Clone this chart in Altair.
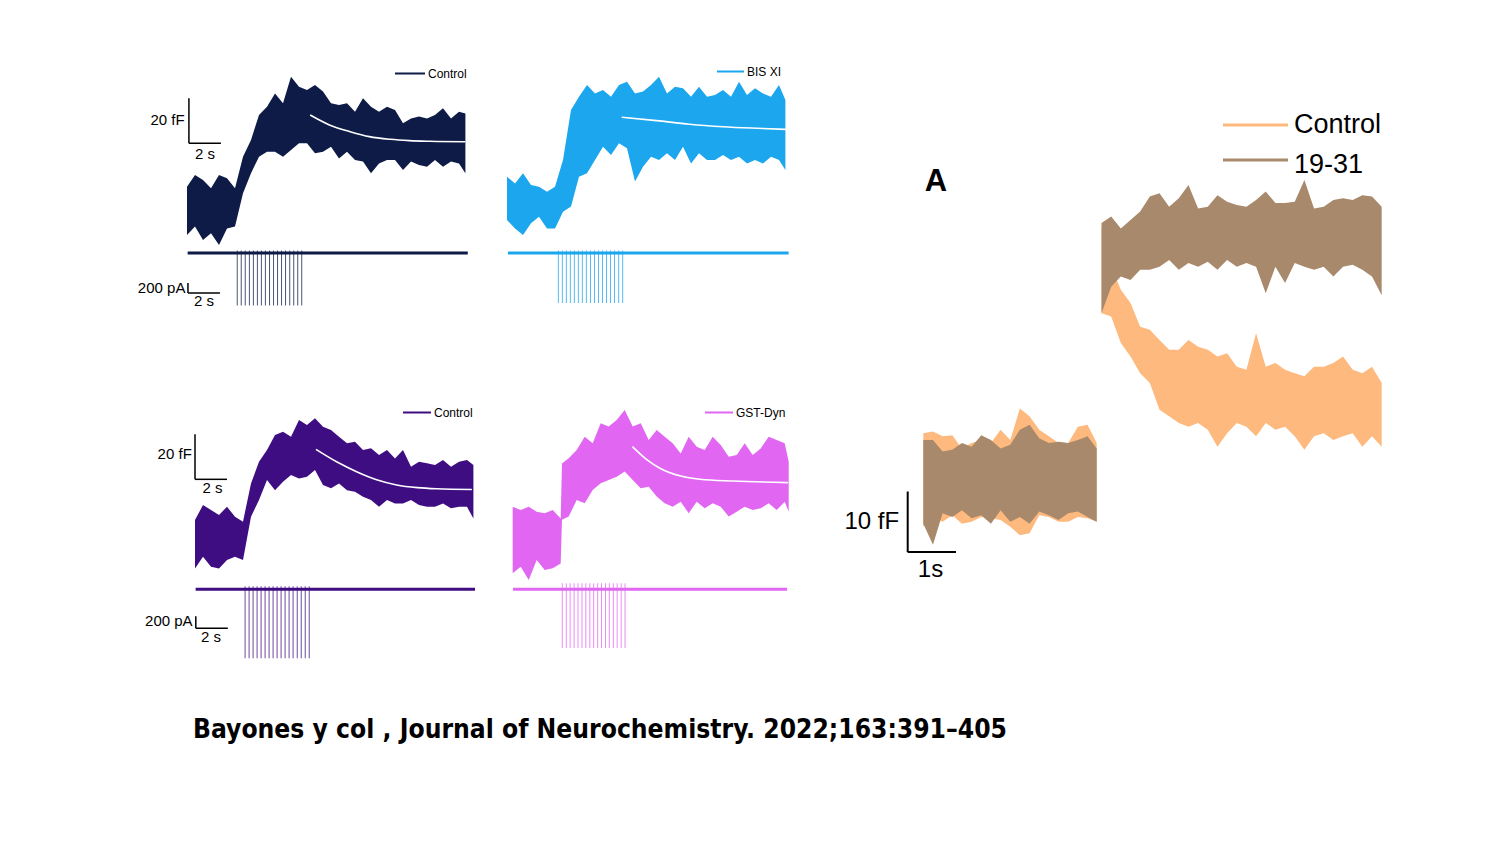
import altair as alt
import pandas as pd

# ---------------- data ----------------
# left block: time (s) and capacitance envelopes (fF, relative to pre-stimulus baseline)
T_LEFT = [0, 0.5, 1, 1.5, 2, 2.5, 3, 3.5, 4, 4.5, 5, 5.5, 6, 6.5, 7, 7.5, 8, 8.5, 9, 9.5,
          10, 10.5, 11, 11.5, 12, 12.5, 13, 13.5, 14, 14.5, 15, 15.5, 16, 16.5, 17, 17.4]

CTRL1_HI = [8.1, 13.3, 11.1, 7.4, 13.3, 11.9, 7.4, 21.5, 28.9, 40.0, 43.7, 49.6, 45.2, 57.0, 52.6, 51.1, 53.3, 50.4,
            45.2, 44.4, 45.2, 41.5, 47.4, 43.7, 41.5, 43.7, 42.2, 36.3, 38.5, 39.3, 38.5, 40.0, 43.0, 38.5, 41.5, 40.7]
CTRL1_LO = [-13.3, -9.6, -15.6, -12.6, -17.8, -10.4, -9.6, 5.2, 14.1, 21.5, 23.7, 23.7, 21.5, 24.4, 27.4, 27.4, 23.0, 23.7,
            25.9, 20.7, 23.7, 20.0, 19.3, 14.1, 18.5, 20.0, 20.0, 15.6, 19.3, 17.8, 17.0, 20.0, 17.0, 19.3, 18.5, 14.1]

BIS_HI = [12.6, 9.6, 14.1, 8.9, 8.1, 5.9, 8.1, 20.0, 42.2, 48.1, 53.3, 49.6, 51.1, 48.1, 53.3, 54.8, 49.6, 50.4,
          53.3, 57.0, 49.6, 52.6, 51.9, 48.1, 52.6, 48.1, 48.9, 51.1, 48.1, 54.8, 48.9, 51.9, 49.6, 48.1, 53.3, 46.7]
BIS_LO = [-6.7, -10.4, -13.3, -8.1, -5.2, -10.4, -10.4, -3.0, -0.7, 12.6, 14.1, 20.0, 25.9, 22.2, 27.4, 25.2, 10.4, 17.0,
          21.5, 20.0, 23.0, 20.0, 25.9, 18.5, 23.0, 20.0, 20.0, 22.2, 20.0, 21.5, 18.5, 20.0, 18.5, 21.5, 20.0, 15.6]

CTRL2_HI = [7.4, 14.1, 11.9, 9.6, 13.3, 8.9, 6.7, 23.7, 33.3, 38.5, 45.2, 46.7, 44.4, 51.9, 49.6, 52.6, 48.9, 47.4,
            44.4, 41.5, 42.2, 38.5, 39.3, 36.3, 38.5, 34.8, 38.5, 31.1, 33.3, 32.6, 31.9, 34.1, 31.1, 33.3, 34.1, 31.9]
CTRL2_LO = [-14.1, -8.9, -13.3, -14.1, -10.4, -8.9, -10.4, 8.9, 16.3, 25.2, 20.7, 24.4, 27.4, 25.9, 26.7, 29.6, 23.0, 21.5,
            23.7, 20.7, 20.0, 17.8, 16.3, 13.3, 16.3, 14.8, 14.8, 16.3, 14.1, 13.3, 13.3, 14.8, 12.6, 13.3, 13.3, 8.1]

T_GST = [0, 0.5, 1, 1.5, 2, 2.5, 3, 3.08, 3.5, 4, 4.5, 5, 5.5, 6, 6.5, 7, 7.5, 8, 8.5, 9, 9.5,
         10, 10.5, 11, 11.5, 12, 12.5, 13, 13.5, 14, 14.5, 15, 15.5, 16, 16.5, 17, 17.25]
GST_HI = [14.8, 13.3, 14.8, 12.6, 11.9, 13.3, 9.6, 34.0, 36.3, 40.0, 45.9, 43.0, 51.9, 50.4, 53.3, 57.8, 50.4, 51.9, 44.4,
          48.9, 45.9, 43.0, 38.5, 45.9, 41.5, 40.0, 45.9, 42.2, 37.0, 37.8, 43.0, 37.8, 40.7, 45.9, 44.4, 43.0, 34.8]
GST_LO = [-14.8, -11.9, -17.8, -8.9, -13.3, -12.6, -10.4, 9.0, 10.4, 17.8, 16.3, 22.2, 25.2, 26.7, 28.1, 30.4, 26.7, 23.0,
          23.7, 19.3, 16.3, 14.8, 17.0, 11.9, 17.0, 14.1, 16.3, 14.8, 10.4, 12.6, 14.8, 13.3, 14.1, 16.3, 13.3, 17.0, 12.6]

# exponential fits (white lines)
CTRL1_FIT_T = [7.7, 8.9, 10.2, 11.4, 12.7, 13.9, 15.2, 17.4]
CTRL1_FIT = [40.0, 35.6, 32.6, 30.4, 29.2, 28.6, 28.3, 28.1]
BIS_FIT_T = [7.17, 9.35, 11.4, 13.5, 15.6, 17.45]
BIS_FIT = [39.0, 37.5, 35.9, 34.8, 34.1, 33.6]
CTRL2_FIT_T = [7.56, 8.85, 10.1, 11.4, 12.6, 13.9, 15.1, 17.3]
CTRL2_FIT = [38.8, 33.3, 28.9, 25.2, 23.0, 21.8, 21.3, 21.0]
GST_FIT_T = [7.48, 8.4, 9.2, 10.5, 11.7, 13.8, 17.2]
GST_FIT = [41.5, 35.6, 31.9, 28.4, 27.0, 26.2, 25.5]

# stimulation trains (s) and current traces (pA)
CTRL1_SPIKES = [3.14, 3.39, 3.64, 3.90, 4.15, 4.40, 4.65, 4.90, 5.16, 5.41, 5.66, 5.91, 6.16, 6.42, 6.67, 6.92, 7.17]
BIS_SPIKES = [3.21, 3.46, 3.71, 3.96, 4.21, 4.46, 4.71, 4.96, 5.22, 5.47, 5.72, 5.97, 6.22, 6.47, 6.72, 6.98, 7.23]
CTRL2_SPIKES = [3.13, 3.38, 3.63, 3.88, 4.13, 4.38, 4.63, 4.88, 5.13, 5.38, 5.63, 5.88, 6.13, 6.39, 6.64, 6.89, 7.14]
GST_SPIKES = [3.10, 3.35, 3.59, 3.84, 4.08, 4.33, 4.57, 4.82, 5.06, 5.31, 5.55, 5.80, 6.04, 6.29, 6.53, 6.78, 7.02]
SPIKE_TOP = [50, 50, 50, 100]               # pA
SPIKE_BOTTOM = [-1050, -1000, -1150, -980]  # pA
CURRENT_START = [0.04, 0.06, 0.04, 0.02]    # s
CURRENT_END = [17.55, 17.6, 17.5, 17.15]    # s

# panel A: Control vs 19-31 (time s, capacitance fF)
A_T_PRE = [0, 0.2, 0.4, 0.6, 0.8, 1.0, 1.2, 1.4, 1.6, 1.8, 2.0, 2.2, 2.4, 2.6, 2.8, 3.0, 3.2, 3.4, 3.59]
A_CTRL_PRE_HI = [7.7, 8.0, 7.2, 7.4, 5.2, 6.1, 6.6, 6.1, 8.3, 6.6, 11.8, 10.5, 8.3, 7.2, 6.1, 6.1, 8.8, 9.1, 6.1]
A_CTRL_PRE_LO = [-7.7, -6.1, -6.9, -5.8, -7.2, -6.9, -6.1, -6.3, -6.6, -7.7, -9.1, -8.8, -5.8, -6.1, -6.9, -6.9, -6.1, -6.3, -6.9]
A_1931_PRE_HI = [6.6, 6.6, 4.7, 5.0, 6.1, 5.5, 7.4, 6.6, 5.2, 5.8, 8.3, 9.1, 6.9, 6.1, 6.3, 6.1, 6.6, 7.2, 5.2]
A_1931_PRE_LO = [-7.2, -10.7, -5.5, -6.1, -5.0, -6.3, -5.8, -7.2, -5.0, -6.9, -6.1, -7.2, -5.2, -5.8, -6.6, -5.5, -5.2, -6.1, -6.9]

A_T_POST = [3.69, 3.89, 4.09, 4.29, 4.49, 4.69, 4.89, 5.09, 5.29, 5.49, 5.69, 5.89, 6.09, 6.29, 6.49,
            6.69, 6.89, 7.09, 7.29, 7.49, 7.69, 7.89, 8.09, 8.29, 8.49, 8.69, 8.89, 9.09, 9.29, 9.49]
A_1931_POST_HI = [42.4, 43.5, 41.5, 42.9, 44.3, 46.8, 47.3, 45.1, 46.5, 48.7, 44.8, 45.1, 47.0, 45.9, 45.4,
                  45.1, 46.2, 47.6, 45.7, 45.7, 45.9, 49.5, 44.8, 45.1, 46.2, 46.5, 46.2, 47.0, 46.8, 45.1]
A_1931_POST_LO = [27.5, 31.9, 33.6, 33.0, 34.7, 34.7, 35.2, 36.3, 34.7, 35.8, 35.2, 36.0, 34.7, 36.3, 35.2,
                  35.8, 35.2, 30.8, 35.2, 32.5, 35.8, 35.2, 34.7, 35.2, 33.6, 35.2, 35.5, 34.7, 33.6, 30.5]
A_CTRL_POST_HI = [41.8, 35.2, 31.4, 29.2, 25.3, 24.8, 23.1, 21.5, 21.5, 23.1, 22.0, 21.5, 20.4, 20.9, 18.7,
                  18.2, 24.2, 18.7, 19.3, 18.2, 17.6, 17.1, 18.7, 18.7, 19.3, 20.4, 18.2, 17.6, 18.7, 16.0]
A_CTRL_POST_LO = [27.5, 27.0, 22.6, 20.4, 17.6, 16.0, 11.6, 10.5, 9.4, 8.8, 9.4, 8.3, 5.5, 7.7, 9.4,
                  8.8, 7.2, 9.4, 8.3, 8.8, 7.2, 5.0, 7.2, 7.7, 6.6, 7.2, 7.7, 5.5, 7.2, 5.5]

LEGEND_NAMES = ["Control", "BIS XI", "Control", "GST-Dyn"]
A_NAMES = ["Control", "19-31"]
CAPTION = "Bayones y col , Journal of Neurochemistry. 2022;163:391\u2013405"

# ---------------- styling / layout ----------------
NAVY, SKY, INDIGO, ORCHID = "#0d1b46", "#1ba6ee", "#3f0d82", "#e167f3"
ORANGE, BROWN = "#fdb97e", "#a8896b"
FONT = "Liberation Sans, Arial, Helvetica, sans-serif"

PX_S = 16.0      # px per second, left panels
PX_FF = 2.25     # px per fF, left panels


def lin(d0, d1, r0, r1):
    return alt.Scale(domain=[d0, d1], range=[r0, r1], nice=False, zero=False)


def left_scales(x0, cap0, cur0, cur_k):
    xs = lin(-2, 20, x0 - 2 * PX_S, x0 + 20 * PX_S)
    ys = lin(-40, 80, cap0 + 40 * PX_FF, cap0 - 80 * PX_FF)
    yc = lin(-2000, 500, cur0 + 2000 * cur_k, cur0 - 500 * cur_k)
    return xs, ys, yc


def X(field, sc):
    return alt.X(field, type="quantitative", scale=sc, axis=None)


def Y(field, sc):
    return alt.Y(field, type="quantitative", scale=sc, axis=None)


layers = []


def band(t, hi, lo, xs, ys, color):
    df = pd.DataFrame({"t": t, "hi": hi, "lo": lo})
    return alt.Chart(df).mark_area(color=color, opacity=1, interpolate="linear").encode(
        x=X("t", xs), y=Y("hi", ys), y2="lo")


def fit_line(t, v, xs, ys):
    df = pd.DataFrame({"t": t, "v": v})
    return alt.Chart(df).mark_line(color="white", strokeWidth=1.6, interpolate="monotone").encode(
        x=X("t", xs), y=Y("v", ys))


def current(i, spikes, xs, yc, color):
    base = pd.DataFrame({"t": [CURRENT_START[i]], "t2": [CURRENT_END[i]], "v": [0]})
    sp = pd.DataFrame({"t": spikes, "top": [SPIKE_TOP[i]] * len(spikes),
                       "bot": [SPIKE_BOTTOM[i]] * len(spikes)})
    flat = alt.Chart(base).mark_rule(color=color, strokeWidth=3).encode(
        x=X("t", xs), x2="t2", y=Y("v", yc))
    spk = alt.Chart(sp).mark_rule(color=color, strokeWidth=1, opacity=0.75).encode(
        x=X("t", xs), y=Y("top", yc), y2="bot")
    return [spk, flat]


def scale_bar(t0, dt, v0, dv, xs, ys, color="black", width=1.5):
    dfv = pd.DataFrame({"t": [t0], "a": [v0], "b": [v0 + dv]})
    dfh = pd.DataFrame({"t": [t0], "t2": [t0 + dt], "a": [v0]})
    v = alt.Chart(dfv).mark_rule(color=color, strokeWidth=width).encode(x=X("t", xs), y=Y("a", ys), y2="b")
    h = alt.Chart(dfh).mark_rule(color=color, strokeWidth=width).encode(x=X("t", xs), x2="t2", y=Y("a", ys))
    return [v, h]


def label(text, t, v, xs, ys, size, align="left", weight="normal"):
    df = pd.DataFrame({"t": [t], "v": [v], "s": [text]})
    return alt.Chart(df).mark_text(align=align, baseline="middle", fontSize=size, font=FONT,
                                   fontWeight=weight, color="black").encode(
        x=X("t", xs), y=Y("v", ys), text="s:N")


def legend_entry(name, x1, x2, y, color, size, lw, ty=None, gap=3):
    df = pd.DataFrame({"s": [name]})
    r = alt.Chart(df).mark_rule(color=color, strokeWidth=lw).encode(
        x=alt.value(x1), x2=alt.value(x2), y=alt.value(y))
    t = alt.Chart(df).mark_text(align="left", baseline="middle", fontSize=size, font=FONT,
                                color="black").encode(
        x=alt.value(x2 + gap), y=alt.value(y if ty is None else ty), text="s:N")
    return [r, t]


# ---- panel 1: Control (navy)
xs, ys, yc = left_scales(187, 205, 253, 0.05)
layers += [band(T_LEFT, CTRL1_HI, CTRL1_LO, xs, ys, NAVY), fit_line(CTRL1_FIT_T, CTRL1_FIT, xs, ys)]
layers += current(0, CTRL1_SPIKES, xs, yc, NAVY)
layers += scale_bar(0.12, 2, 27.4, 20, xs, ys)
layers += [label("20 fF", -0.15, 37.8, xs, ys, 15, "right"), label("2 s", 1.12, 22.5, xs, ys, 15, "center")]
layers += scale_bar(0.06, 2, -800, 200, xs, yc)
layers += [label("200 pA", -0.1, -700, xs, yc, 15, "right"), label("2 s", 1.06, -960, xs, yc, 15, "center")]
layers += legend_entry(LEGEND_NAMES[0], 395, 425, 73.5, NAVY, 12, 2)

# ---- panel 2: BIS XI (sky blue)
xs, ys, yc = left_scales(507, 205, 253, 0.05)
layers += [band(T_LEFT, BIS_HI, BIS_LO, xs, ys, SKY), fit_line(BIS_FIT_T, BIS_FIT, xs, ys)]
layers += current(1, BIS_SPIKES, xs, yc, SKY)
layers += legend_entry(LEGEND_NAMES[1], 717, 744, 71.5, SKY, 12, 2)

# ---- panel 3: Control (indigo)
xs, ys, yc = left_scales(195, 536.7, 589.3, 0.06)
layers += [band(T_LEFT, CTRL2_HI, CTRL2_LO, xs, ys, INDIGO), fit_line(CTRL2_FIT_T, CTRL2_FIT, xs, ys)]
layers += current(2, CTRL2_SPIKES, xs, yc, INDIGO)
layers += scale_bar(0.0, 2, 25.5, 20, xs, ys)
layers += [label("20 fF", -0.2, 36.8, xs, ys, 15, "right"), label("2 s", 1.1, 21.8, xs, ys, 15, "center")]
layers += scale_bar(0.05, 2, -650, 200, xs, yc)
layers += [label("200 pA", -0.15, -530, xs, yc, 15, "right"), label("2 s", 1.0, -800, xs, yc, 15, "center")]
layers += legend_entry(LEGEND_NAMES[2], 403, 431, 412.5, INDIGO, 12, 2)

# ---- panel 4: GST-Dyn (orchid)
xs, ys, yc = left_scales(512.7, 540, 589.3, 0.06)
layers += [band(T_GST, GST_HI, GST_LO, xs, ys, ORCHID), fit_line(GST_FIT_T, GST_FIT, xs, ys)]
layers += current(3, GST_SPIKES, xs, yc, ORCHID)
layers += legend_entry(LEGEND_NAMES[3], 705, 733, 412.5, ORCHID, 12, 2)

# ---- panel A
A_PX_S, A_PX_FF, A_X0, A_Y0 = 48.3, 6.06, 923.3, 480
xa = lin(-2, 12, A_X0 - 2 * A_PX_S, A_X0 + 12 * A_PX_S)
ya = lin(-40, 80, A_Y0 + 40 * A_PX_FF, A_Y0 - 80 * A_PX_FF)
layers += [
    band(A_T_PRE, A_CTRL_PRE_HI, A_CTRL_PRE_LO, xa, ya, ORANGE),
    band(A_T_POST, A_CTRL_POST_HI, A_CTRL_POST_LO, xa, ya, ORANGE),
    band(A_T_PRE, A_1931_PRE_HI, A_1931_PRE_LO, xa, ya, BROWN),
    band(A_T_POST, A_1931_POST_HI, A_1931_POST_LO, xa, ya, BROWN),
]
layers += scale_bar(-0.323, 1, -11.9, 10, xa, ya, width=2)
layers += [label("10 fF", -0.5, -6.9, xa, ya, 24, "right"), label("1s", 0.15, -14.9, xa, ya, 24, "center")]
layers += legend_entry(A_NAMES[0], 1223, 1288, 125, ORANGE, 27, 3, gap=6)
layers += legend_entry(A_NAMES[1], 1223, 1288, 160, BROWN, 27, 3, ty=165, gap=6)
layers.append(alt.Chart(pd.DataFrame({"s": ["A"]})).mark_text(
    align="center", baseline="middle", fontSize=31, fontWeight="bold", font=FONT, color="black").encode(
    x=alt.value(936), y=alt.value(182), text="s:N"))

# ---- caption
layers.append(alt.Chart(pd.DataFrame({"s": [CAPTION]})).mark_text(
    align="left", baseline="middle", fontSize=26.2, fontWeight="bold",
    font="Liberation Sans Narrow, DejaVu Sans Condensed, Arial Narrow, sans-serif", color="black").encode(
    x=alt.value(193), y=alt.value(730), text="s:N"))

chart = alt.layer(*layers).resolve_scale(x="independent", y="independent").properties(
    width=1508, height=848, padding=0, autosize="none", background="white"
).configure_view(stroke=None)

chart.save("out.html", embed_options={"renderer": "svg", "actions": False})
